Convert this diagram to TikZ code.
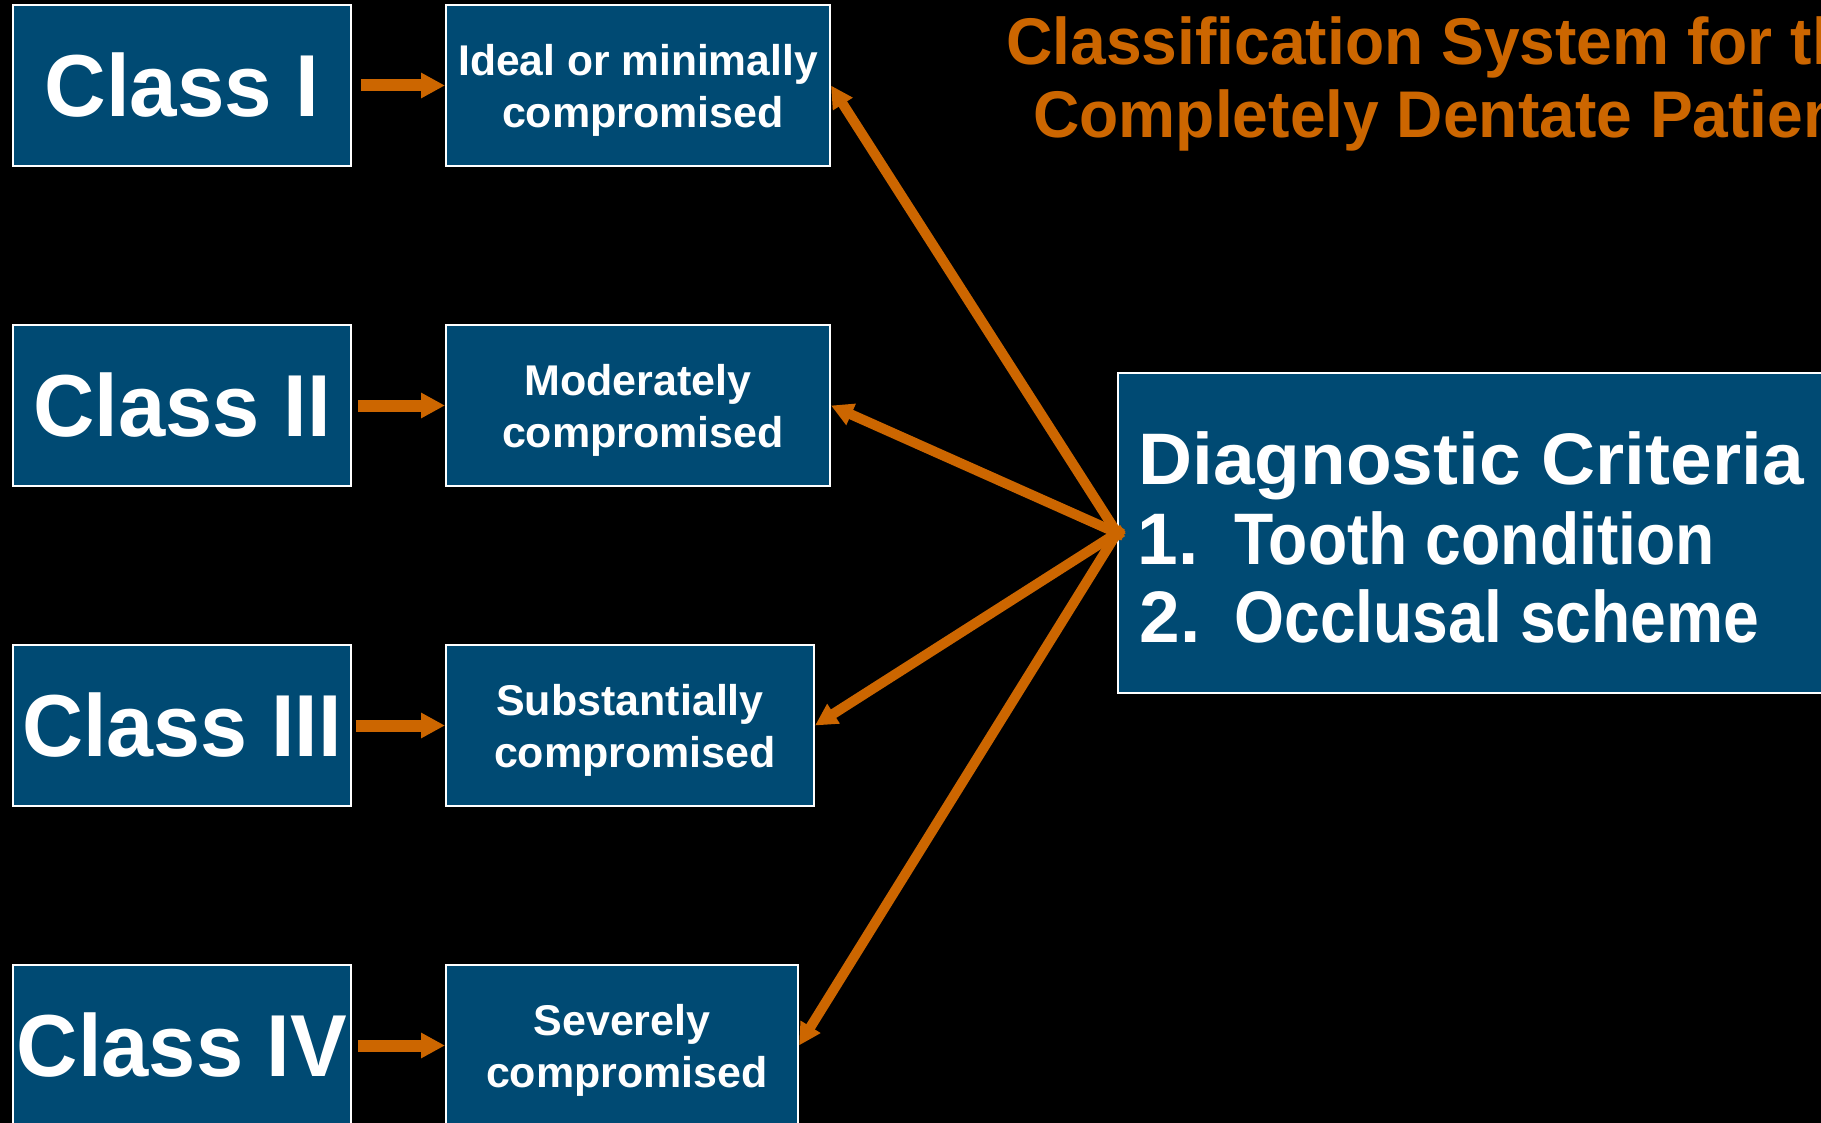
\documentclass[tikz,border=0pt]{standalone}
\usepackage{fontspec}
\usepackage{graphicx}
\setmainfont{Liberation Sans}
\usetikzlibrary{arrows.meta}
\definecolor{boxblue}{RGB}{0,74,115}
\definecolor{orng}{RGB}{204,102,0}
\newcommand{\hsq}[2]{\scalebox{#1}[1]{#2}}
\begin{document}
\begin{tikzpicture}[x=0.5pt,y=-0.5pt,
 box/.style={draw=white,line width=1pt,fill=boxblue,text=white,inner sep=0pt,minimum height=80.5pt},
 classbox/.style={box,minimum width=169pt,font=\bfseries\fontsize{44}{50}\selectfont},
 levelbox/.style={box,align=center,font=\bfseries\fontsize{21.5}{26}\selectfont,text depth=0pt},
 harrow/.style={orng,line width=6pt,-{Triangle[length=12pt,width=12pt]}},
 darrow/.style={orng,line width=5pt,-{Triangle[length=11pt,width=11pt]},shorten <=-3.5pt},
 crit/.style={text=white,font=\bfseries\fontsize{36.5}{39}\selectfont,anchor=base west,inner sep=0pt},
 ttl/.style={text=orng,font=\bfseries\fontsize{33}{35}\selectfont,anchor=base west,inner sep=0pt}]
\useasboundingbox (0,0) rectangle (1821,1123);
\clip (0,0) rectangle (1821,1123);
\fill[black] (0,0) rectangle (1821,1123);
% class boxes
\node[classbox] (c1) at (182,85.5) {\hsq{0.97}{Class I}};
\node[classbox] (c2) at (182,405.5) {\hsq{0.965}{Class II}};
\node[classbox] (c3) at (182,725.5) {\hsq{0.96}{Class III}};
\node[classbox] (c4) at (182,1045.5) {\hsq{0.965}{Class IV}};
% level boxes
\node[levelbox,minimum width=192pt] (l1) at (638,85.5) {\hsq{0.99}{Ideal or minimally}\\\hspace*{5pt}compromised};
\node[levelbox,minimum width=192pt] (l2) at (638,405.5) {Moderately\\\hspace*{5pt}compromised};
\node[levelbox,minimum width=184pt] (l3) at (630,725.5) {Substantially\\\hspace*{5pt}compromised};
\node[levelbox,minimum width=176pt] (l4) at (622,1045.5) {Severely\\\hspace*{5pt}compromised};
% diagnostic box
\node[box,minimum width=361.5pt,minimum height=160pt] (diag) at (1479.5,533) {};
\node[crit] (dt) at (1138,484) {\hsq{1.025}{Diagnostic Criteria}};
\node[crit] (n1) at (1137,564) {1.};
\node[crit] (t1) at (1234,564) {\hsq{0.88}{Tooth condition}};
\node[crit] (n2) at (1139,642) {2.};
\node[crit] (t2) at (1234,642) {\hsq{0.88}{Occlusal scheme}};
% title
\node[ttl] (title1) at (1006,65) {\hsq{0.972}{Classification System for the}};
\node[ttl] (title2) at (1033,138) {\hsq{0.972}{Completely Dentate Patient}};
% arrows
\draw[harrow,shorten <=4.5pt] (c1) -- (l1);
\draw[harrow,shorten <=3pt] (c2) -- (l2);
\draw[harrow,shorten <=1.75pt] (c3) -- (l3);
\draw[harrow,shorten <=3pt] (c4) -- (l4);
\draw[darrow] (diag.west) -- (l1.east);
\draw[darrow] (diag.west) -- (l2.east);
\draw[darrow] (diag.west) -- (l3.east);
\draw[darrow] (diag.west) -- (l4.east);
\end{tikzpicture}
\end{document}
